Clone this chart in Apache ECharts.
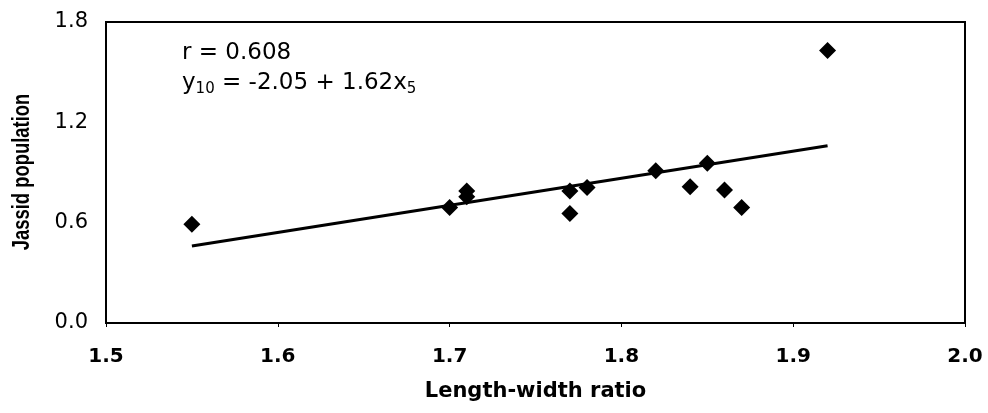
<!DOCTYPE html>
<html>
<head>
<meta charset="utf-8">
<script src="https://cdn.jsdelivr.net/npm/echarts@6/dist/echarts.min.js"></script>
<style>
html,body{margin:0;padding:0;background:#fff;}
#chart{width:988px;height:413px;}
</style>
</head>
<body>
<div id="chart"></div>
<script>
var lengthWidthRatio = [1.55, 1.70, 1.71, 1.71, 1.77, 1.77, 1.78, 1.82, 1.84, 1.85, 1.86, 1.87, 1.92];
var jassidPopulation = [0.59, 0.69, 0.79, 0.755, 0.79, 0.655, 0.81, 0.91, 0.815, 0.955, 0.795, 0.69, 1.63];
var trendX = [1.55, 1.92];
var trendY = [0.46, 1.06];
var xTicks = ['1.5', '1.6', '1.7', '1.8', '1.9', '2.0'];
var yTicks = ['0.0', '0.6', '1.2', '1.8'];
var yTitle = 'Jassid population';

var points = lengthWidthRatio.map(function (x, i) { return [x, jassidPopulation[i]]; });
var trend = trendX.map(function (x, i) { return [x, trendY[i]]; });

var FONT = '"Liberation Sans", Arial, sans-serif';
var WIDE = '"DejaVu Sans", "Liberation Sans", sans-serif';
var chart = echarts.init(document.getElementById('chart'));
chart.setOption({
  animation: false,
  backgroundColor: '#fff',
  grid: { left: 106, right: 23, top: 22, bottom: 90, show: true, borderColor: '#000', borderWidth: 2, containLabel: false },
  xAxis: {
    type: 'value', min: 1.5, max: 2.0, interval: 0.1,
    name: 'Length-width ratio', nameLocation: 'middle', nameGap: 58,
    nameTextStyle: { fontFamily: WIDE, fontSize: 21, fontWeight: 'bold', color: '#000' },
    axisLine: { show: true, lineStyle: { color: '#000', width: 2 } },
    axisTick: { show: true, length: 4, lineStyle: { color: '#000' } },
    splitLine: { show: false },
    axisLabel: { margin: 24, fontFamily: WIDE, fontSize: 20, fontWeight: 'bold', color: '#000',
      formatter: function (v) { var i = Math.round((v - 1.5) / 0.1); return xTicks[i] || ''; } }
  },
  yAxis: {
    type: 'value', min: 0, max: 1.8, interval: 0.6,
    axisLine: { show: true, lineStyle: { color: '#000', width: 2 } },
    axisTick: { show: false },
    splitLine: { show: false },
    axisLabel: { margin: 18, fontFamily: WIDE, fontSize: 21, color: '#000',
      formatter: function (v) { var i = Math.round(v / 0.6); return yTicks[i] || ''; } }
  },
  graphic: [
    { type: 'text', x: 22, y: 172, rotation: Math.PI / 2, scaleX: 0.97, scaleY: 1.25,
      style: { text: yTitle, font: 'bold 19px ' + FONT, fill: '#000', align: 'center', verticalAlign: 'middle' } },
    { type: 'text', left: 182, top: 42, style: { text: 'r = 0.608', font: '23px ' + WIDE, fill: '#000' } },
    { type: 'text', left: 182, top: 72, style: {
      text: '{m|y}{s|10}{m| = -2.05 + 1.62x}{s|5}',
      rich: {
        m: { fontFamily: WIDE, fontSize: 23, color: '#000' },
        s: { fontFamily: WIDE, fontSize: 15, color: '#000', padding: [11, 0, 0, 0] }
      }
    } }
  ],
  series: [
    { type: 'line', data: trend, symbol: 'none', lineStyle: { color: '#000', width: 3 }, z: 2 },
    { type: 'scatter', data: points, symbol: 'diamond', symbolSize: 17, itemStyle: { color: '#000', opacity: 1 }, z: 3 }
  ]
});
</script>
</body>
</html>
